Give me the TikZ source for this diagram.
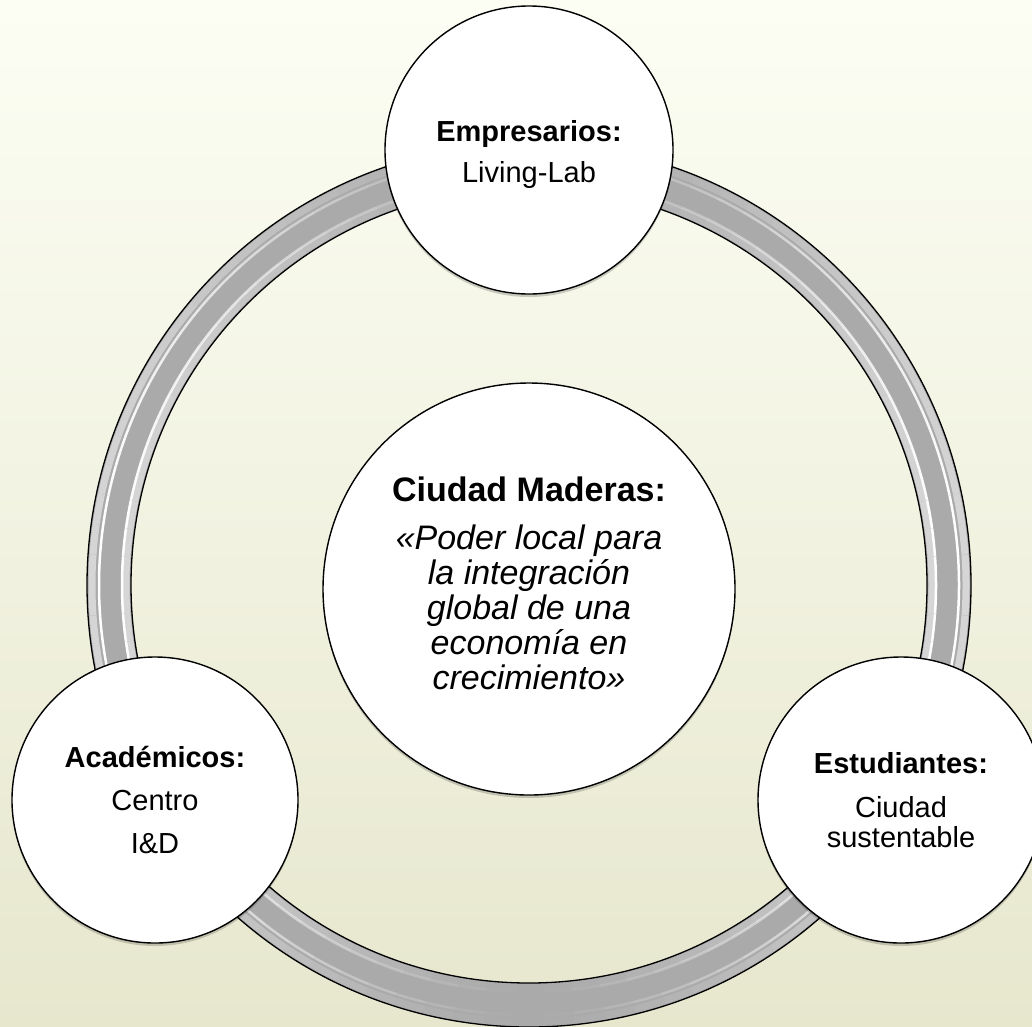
\documentclass[tikz,border=0pt]{standalone}
\usepackage{fontspec}
\setmainfont{Liberation Sans}
\usetikzlibrary{shadows}
\definecolor{bgtop}{RGB}{252,254,244}
\definecolor{bgbot}{RGB}{231,231,206}
\definecolor{ringgray}{RGB}{170,170,170}
\definecolor{ringlight}{RGB}{214,214,214}
\begin{document}
\begin{tikzpicture}[x=1pt,y=-1pt,
  bubble/.style={circle, draw=black, line width=1.4pt, fill=white,
    minimum size=#1, inner sep=0pt, align=center,
    drop shadow={shadow xshift=0pt, shadow yshift=-3pt, opacity=0.18, fill=black}},
  small/.style={font=\fontsize{29}{#1}\selectfont},
  label text/.style={align=center, inner sep=0pt},
  ringline/.style={line width=1.3pt, draw=black}
]
\useasboundingbox (0,0) rectangle (1032,1026);
\shade[top color=bgtop, bottom color=bgbot] (0,0) rectangle (1032,1026);

% ring
\coordinate (rc) at (529,585);
\fill[ringgray, even odd rule] (rc) circle[radius=442] (rc) circle[radius=398];
\foreach \a in {0,4,...,356}{
  \pgfmathsetmacro\op{pow(abs(cos(\a+2)),1.3)}
  \draw[ringlight, line width=7, opacity=\op] (rc) ++(\a:437) arc[start angle=\a, end angle=\a+4, radius=437];
  \draw[ringlight, line width=7, opacity=\op] (rc) ++(\a:403) arc[start angle=\a, end angle=\a+4, radius=403];
  \draw[white, line width=2.5, opacity=\op] (rc) ++(\a:430) arc[start angle=\a, end angle=\a+4, radius=430];
  \draw[white, line width=2.5, opacity=\op] (rc) ++(\a:407) arc[start angle=\a, end angle=\a+4, radius=407];
}
\draw[ringline] (rc) circle[radius=442];
\draw[ringline] (rc) circle[radius=398];

% circles
\node[bubble=288pt] (emp) at (529,150) {};
\node[label text, small=41] (emptxt) at (529,154) {\textbf{Empresarios:}\\ Living-Lab};
\node[bubble=286pt, small=43] (aca) at (155,800) {\textbf{Académicos:}\\ Centro\\ I\&D};
\node[bubble=286pt, small=30] (est) at (901,800) {\textbf{Estudiantes:}\\[14pt] Ciudad\\ sustentable};
\node[bubble=412pt] (cm) at (529,589) {};
\node[label text, font=\fontsize{34}{35}\selectfont] (cmtxt) at (529,583)
  {\textbf{Ciudad Maderas:}\\[13pt] \textit{«Poder local para}\\ \textit{la integración}\\ \textit{global de una}\\ \textit{economía en}\\ \textit{crecimiento»}};
\end{tikzpicture}
\end{document}
